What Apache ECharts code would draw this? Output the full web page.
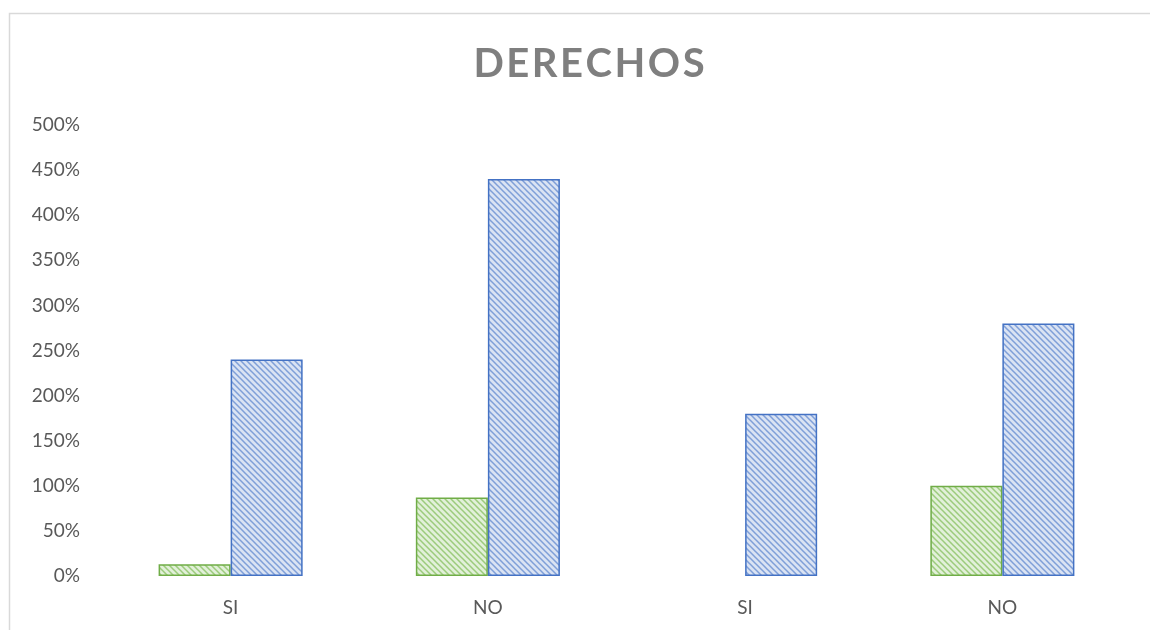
<!DOCTYPE html>
<html>
<head>
    <meta charset="utf-8">
    <title>DERECHOS</title>
    <script src="https://cdn.jsdelivr.net/npm/echarts@6/dist/echarts.min.js"></script>
    <style>
        body { margin: 0; background: #fff; }
    </style>
</head>
<body>
    <div id="main" style="width: 1150px;height:630px;"></div>
    <script type="text/javascript">
        var categories = ['SI', 'NO', 'SI', 'NO']
        var greenValues = [13, 87, null, 100]
        var blueValues = [240, 440, 180, 280]
        var yTicks = [0, 50, 100, 150, 200, 250, 300, 350, 400, 450, 500]

        // hatch fill like excel "wide downward diagonal"
        function hatch(bg, fg) {
            var c = document.createElement('canvas')
            var s = 6
            c.width = s
            c.height = s
            var ctx = c.getContext('2d')
            ctx.fillStyle = bg
            ctx.fillRect(0, 0, s, s)
            ctx.strokeStyle = fg
            ctx.lineWidth = 1.5
            ctx.beginPath()
            ctx.moveTo(-1, -1); ctx.lineTo(s + 1, s + 1)
            ctx.moveTo(-1, s - 1); ctx.lineTo(1, s + 1)
            ctx.moveTo(s - 1, -1); ctx.lineTo(s + 1, 1)
            ctx.stroke()
            return { image: c, repeat: 'repeat' }
        }

        var myChart = echarts.init(document.getElementById('main'))
        var option = {
            animation: false,
            title: {
                text: 'D\u200aE\u200aR\u200aE\u200aC\u200aH\u200aO\u200aS',
                left: 584,
                textAlign: 'center',
                top: 39,
                textStyle: {
                    fontFamily: 'Lato',
                    fontSize: 40,
                    fontWeight: 'bold',
                    color: '#7f7f7f'
                }
            },
            graphic: [{
                type: 'rect',
                shape: { x: 9.5, y: 13.5, width: 1160, height: 640 },
                style: { fill: 'none', stroke: '#d9d9d9', lineWidth: 1.5 },
                silent: true
            }],
            grid: {
                left: 102,
                right: 19,
                top: 125,
                bottom: 54
            },
            xAxis: {
                type: 'category',
                data: categories,
                axisLine: { show: false },
                axisTick: { show: false },
                axisLabel: {
                    margin: 22,
                    fontFamily: 'Lato',
                    fontSize: 19,
                    color: '#595959'
                }
            },
            yAxis: {
                type: 'value',
                min: yTicks[0],
                max: yTicks[yTicks.length - 1],
                interval: 50,
                splitLine: { show: false },
                axisLine: { show: false },
                axisTick: { show: false },
                axisLabel: {
                    margin: 22,
                    fontFamily: 'Lato',
                    fontSize: 19,
                    color: '#595959',
                    formatter: '{value}%'
                }
            },
            series: [
                {
                    name: 'verde',
                    type: 'bar',
                    data: greenValues,
                    barGap: '0%',
                    barCategoryGap: '44%',
                    itemStyle: {
                        color: hatch('#e2f0d9', '#9ccb7c'),
                        borderColor: '#70ad47',
                        borderWidth: 1.5
                    }
                },
                {
                    name: 'azul',
                    type: 'bar',
                    data: blueValues,
                    barGap: '0%',
                    barCategoryGap: '44%',
                    itemStyle: {
                        color: hatch('#dae3f3', '#7f9fd8'),
                        borderColor: '#4472c4',
                        borderWidth: 1.5
                    }
                }
            ]
        };
        myChart.setOption(option);
    </script>
</body>
</html>
